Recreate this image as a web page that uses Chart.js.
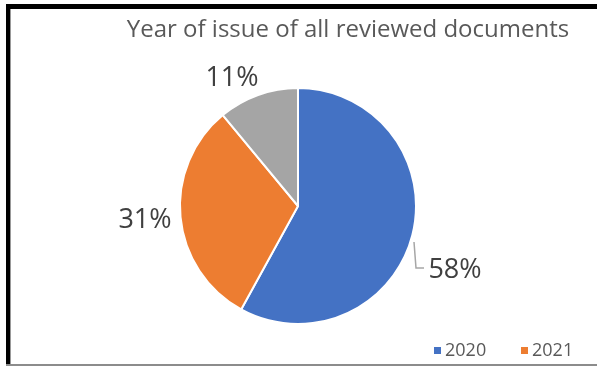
<!DOCTYPE html>
<html><head><meta charset="utf-8">
<script src="https://cdn.jsdelivr.net/npm/chart.js@4"></script>
<style>
html,body{margin:0;padding:0;background:#fff;}
#wrap{position:relative;width:597px;height:367px;overflow:hidden;}
canvas{position:absolute;left:0;top:0;}
.b{position:absolute;}
</style></head><body>
<div id="wrap">
<canvas id="c" width="597" height="367"></canvas>
<div class="b" style="left:6px;top:4px;width:4px;height:362px;background:#000"></div>
<div class="b" style="left:6px;top:4px;width:591px;height:5px;background:#000"></div>
<div class="b" style="left:10px;top:9px;width:1px;height:356px;background:#999"></div>
<div class="b" style="left:6px;top:364px;width:591px;height:2px;background:#8c8c8c"></div>
</div>
<script>
const categories = ['2020', '2021', '2022'];
const values = [58, 31, 11];
const labelsText = ['58%', '31%', '11%'];
const legendShown = ['2020', '2021'];
const colors = ['#4472C4', '#ED7D31', '#A5A5A5'];
const titleText = 'Year of issue of all reviewed documents';

const FONT = '"Open Sans", sans-serif';
const textPlugin = {
  id: 'texts',
  afterDraw(chart) {
    const ctx = chart.ctx;
    ctx.save();
    // title
    ctx.fillStyle = '#595959';
    ctx.font = '24px ' + FONT;
    ctx.textAlign = 'center';
    ctx.textBaseline = 'middle';
    ctx.fillText(titleText, 348, 30);
    // data labels
    const pos = [[455, 270], [145, 220], [232, 78]];
    ctx.fillStyle = '#404040';
    ctx.font = '27px ' + FONT;
    labelsText.forEach((t, i) => ctx.fillText(t, pos[i][0], pos[i][1]));
    // leader line
    ctx.strokeStyle = '#A6A6A6';
    ctx.lineWidth = 1.5;
    ctx.beginPath();
    ctx.moveTo(414, 242);
    ctx.lineTo(416, 268);
    ctx.lineTo(424, 268);
    ctx.stroke();
    // legend
    ctx.font = '18px ' + FONT;
    ctx.textAlign = 'left';
    const lx = [434, 521];
    legendShown.forEach((t, i) => {
      ctx.fillStyle = colors[i];
      ctx.fillRect(lx[i], 347, 7, 7);
      ctx.fillStyle = '#595959';
      ctx.fillText(t, lx[i] + 11, 351);
    });
    ctx.restore();
  }
};

new Chart(document.getElementById('c'), {
  type: 'pie',
  data: {
    labels: categories,
    datasets: [{
      data: values,
      backgroundColor: colors,
      borderColor: '#ffffff',
      borderWidth: 2
    }]
  },
  options: {
    responsive: false,
    animation: false,
    layout: { padding: { top: 87, bottom: 42, left: 179, right: 180 } },
    plugins: { legend: { display: false }, tooltip: { enabled: false }, title: { display: false } }
  },
  plugins: [textPlugin]
});
</script>
</body></html>
